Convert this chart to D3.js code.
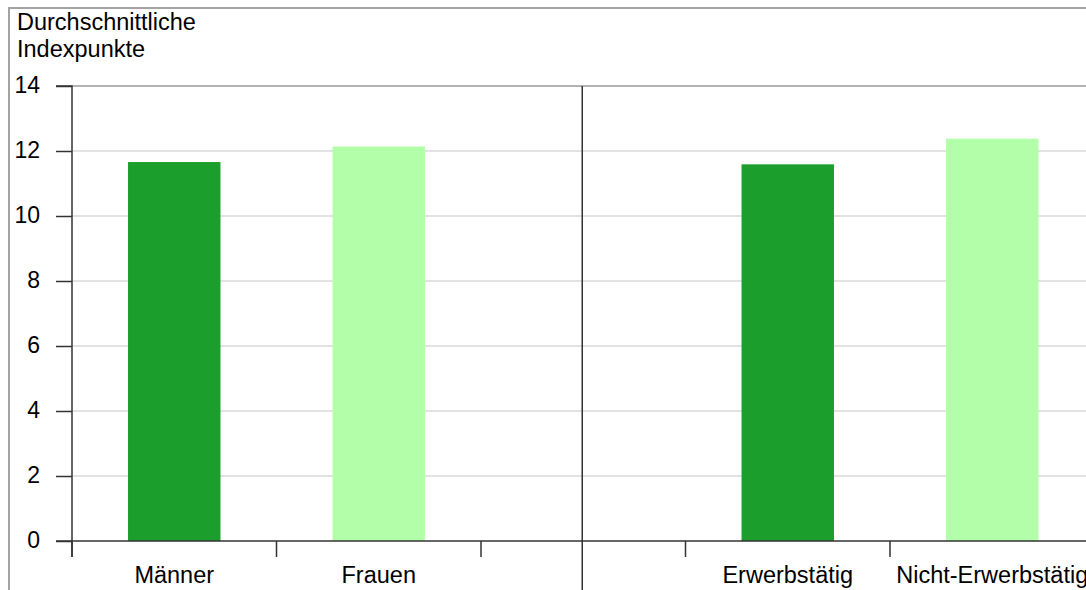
<!DOCTYPE html>
<html>
<head>
<meta charset="utf-8">
<script src="https://cdn.jsdelivr.net/npm/d3@7"></script>
<style>
  html, body { margin: 0; padding: 0; background: #fff; }
  svg { display: block; font-family: "Liberation Sans", Arial, Helvetica, sans-serif; }
</style>
</head>
<body>
<svg id="chart" width="1086" height="590"></svg>
<script>
// ---- data ----
const categories = ["Männer", "Frauen", "", "Erwerbstätig", "Nicht-Erwerbstätig"];
const values = [11.66, 12.14, null, 11.59, 12.38];
const barColors = ["#1b9e2b", "#b3ffa9", null, "#1b9e2b", "#b3ffa9"];
const yTicks = [0, 2, 4, 6, 8, 10, 12, 14];
const yTitle = ["Durchschnittliche", "Indexpunkte"];
const separatorCategory = "";

(function () {
// ---- layout ----
const W = 1086, H = 590;
const mLeft = 72, mTop = 86, mBottom = 541;
const step = 204.5;
const mRight = mLeft + step * categories.length;

const svg = d3.select("#chart");

// outer frame
svg.append("rect")
  .attr("x", 9).attr("y", 8)
  .attr("width", 1300).attr("height", 800)
  .attr("fill", "none").attr("stroke", "#a3a3a3").attr("stroke-width", 2);

const x = d3.scaleBand().domain(categories.map((c, i) => i)).range([mLeft, mRight]).padding(0);
const y = d3.scaleLinear().domain([0, 14]).range([mBottom, mTop]);

// gridlines
svg.append("g").selectAll("line")
  .data(yTicks.filter(t => t > 0))
  .join("line")
  .attr("x1", mLeft).attr("x2", mRight)
  .attr("y1", d => y(d)).attr("y2", d => y(d))
  .attr("stroke", d => d === 14 ? "#9a9a9a" : "#d9d9d9")
  .attr("stroke-width", 1.5);

// bars
const barFrac = 0.452;
const bw = x.bandwidth() * barFrac;
svg.append("g").selectAll("rect")
  .data(values.map((v, i) => ({ v, i })).filter(d => d.v !== null))
  .join("rect")
  .attr("x", d => x(d.i) + (x.bandwidth() - bw) / 2)
  .attr("width", bw)
  .attr("y", d => y(d.v))
  .attr("height", d => y(0) - y(d.v))
  .attr("fill", d => barColors[d.i]);

// separator line at the blank category
const sepIdx = categories.indexOf(separatorCategory);
const sepX = x(sepIdx) + x.bandwidth() / 2 - 1;
svg.append("line")
  .attr("x1", sepX).attr("x2", sepX)
  .attr("y1", mTop).attr("y2", H + 10)
  .attr("stroke", "#333").attr("stroke-width", 1.5);

// y axis
const yAxis = d3.axisLeft(y).tickValues(yTicks).tickSize(16).tickPadding(16).tickFormat(d3.format("d"));
const gy = svg.append("g").attr("transform", `translate(${mLeft},0)`).call(yAxis);
gy.select(".domain").attr("stroke", "#333").attr("stroke-width", 1.5).attr("d", `M-16,${mTop}H0V${mBottom + 16}`);
gy.selectAll(".tick line").attr("stroke", "#333").attr("stroke-width", 1.5);
gy.selectAll(".tick text")
  .attr("font-size", 23).attr("fill", "#000")
  .attr("font-family", "'Liberation Sans', Arial, sans-serif")
  .attr("dy", "0.3em");

// x axis baseline and ticks at band boundaries
const boundaries = d3.range(categories.length + 1).map(i => mLeft + i * step);
svg.append("line")
  .attr("x1", mLeft - 16).attr("x2", mRight)
  .attr("y1", mBottom).attr("y2", mBottom)
  .attr("stroke", "#333").attr("stroke-width", 1.5);
svg.append("g").selectAll("line")
  .data(boundaries)
  .join("line")
  .attr("x1", d => d).attr("x2", d => d)
  .attr("y1", mBottom).attr("y2", mBottom + 16)
  .attr("stroke", "#333").attr("stroke-width", 1.5);

// x labels
svg.append("g").selectAll("text")
  .data(categories.map((c, i) => ({ c, i })).filter(d => d.c !== ""))
  .join("text")
  .attr("x", d => x(d.i) + x.bandwidth() / 2)
  .attr("y", mBottom + 42)
  .attr("text-anchor", "middle")
  .attr("font-size", 23.5)
  .attr("fill", "#000")
  .text(d => d.c);

// y title
svg.append("g").selectAll("text")
  .data(yTitle)
  .join("text")
  .attr("x", 17)
  .attr("y", (d, i) => 30 + i * 27)
  .attr("font-size", 23.5)
  .attr("fill", "#000")
  .text(d => d);
})();
</script>
</body>
</html>
